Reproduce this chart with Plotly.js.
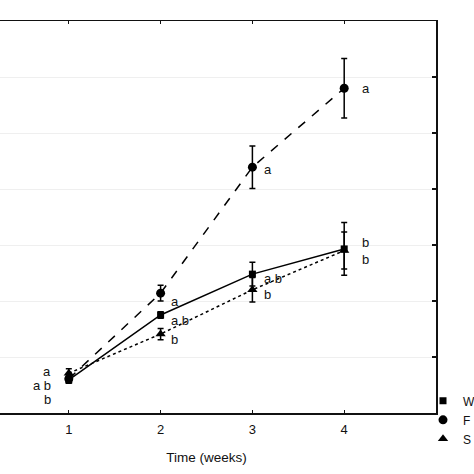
<!DOCTYPE html>
<html>
<head>
<meta charset="utf-8">
<script src="https://cdn.plot.ly/plotly-3.0.1.min.js"></script>
<style>
html,body{margin:0;padding:0;overflow:hidden;background:#fff;width:474px;height:474px;}
#chart{position:absolute;left:-23px;top:0;width:497px;height:474px;}
</style>
</head>
<body>
<div id="chart"></div>
<script>
// ---- data ----
const weeks = [1, 2, 3, 4];
const seriesNames = ['W', 'F', 'S'];
const valuesW = [0.59, 1.75, 2.48, 2.93];
const errorsW = [0.06, 0.06, 0.21, 0.47];
const valuesF = [0.61, 2.14, 4.39, 5.80];
const errorsF = [0.05, 0.14, 0.38, 0.53];
const valuesS = [0.71, 1.41, 2.20, 2.90];
const errorsS = [0.08, 0.10, 0.22, 0.33];
const lettersW = ['a b', 'a b', 'a b', 'b'];
const lettersF = ['a', 'a', 'a', 'a'];
const lettersS = ['b', 'b', 'b', 'b'];
const xTickLabels = ['1', '2', '3', '4'];

const FONT = 'Liberation Sans, Arial, Helvetica, sans-serif';
const symbols = ['square', 'circle', 'triangle-up'];
const dashes = ['solid', 'dash', 'dot'];
const sizes = [7, 9, 9];

function trace(i, y, err) {
  return {
    type: 'scatter', mode: 'lines+markers', name: seriesNames[i], showlegend: false,
    x: weeks, y: y,
    line: {color: '#000', width: 1.5, dash: dashes[i]},
    marker: {color: '#000', symbol: symbols[i], size: sizes[i]},
    error_y: {type: 'data', array: err, visible: true, color: '#000', thickness: 1.5, width: 3}
  };
}
function legendEntry(i) {
  return {
    type: 'scatter', mode: 'markers', name: seriesNames[i], x: [null], y: [null],
    marker: {color: '#000', symbol: symbols[i], size: sizes[i]}
  };
}

const data = [
  trace(0, valuesW, errorsW),
  trace(1, valuesF, errorsF),
  trace(2, valuesS, errorsS),
  legendEntry(0), legendEntry(1), legendEntry(2)
];

// letter annotations (layout offsets in px, separate from data)
const annotations = [];
const sets = [
  {vals: valuesW, letters: lettersW, key: 'W'},
  {vals: valuesF, letters: lettersF, key: 'F'},
  {vals: valuesS, letters: lettersS, key: 'S'}
];
const xShiftByWeek = [0, 8, 10, 16];
const yShift = {
  W: [-6, -5, -4, 6],
  F: [8, -8, -2, 0],
  S: [-20, -5, -5, -9]
};
sets.forEach(s => {
  s.letters.forEach((t, i) => {
    const a = {
      x: weeks[i], y: s.vals[i], xref: 'x', yref: 'y', text: t, showarrow: false,
      font: {family: FONT, size: 13, color: '#111'}, yanchor: 'middle'
    };
    if (i === 0) {
      a.y = valuesW[0];
      a.xanchor = 'right';
      a.xshift = -16;
      a.yshift = yShift[s.key][0];
    } else {
      a.xanchor = 'left';
      a.xshift = xShiftByWeek[i];
      a.yshift = yShift[s.key][i];
    }
    annotations.push(a);
  });
});

const layout = {
  width: 497, height: 474,
  margin: {l: 0, r: 38, t: 21, b: 61, pad: 0, autoexpand: false},
  paper_bgcolor: '#fff', plot_bgcolor: '#fff',
  font: {family: FONT, size: 12, color: '#111'},
  showlegend: true,
  legend: {
    x: 0.9717, xanchor: 'left', y: 0.068, yanchor: 'top',
    font: {family: FONT, size: 12, color: '#111'},
    itemwidth: 30, bgcolor: 'rgba(0,0,0,0)', tracegroupgap: 0
  },
  xaxis: {
    range: [0, 5], tickvals: weeks, ticktext: xTickLabels,
    ticks: 'inside', ticklen: 3, tickwidth: 1.2, tickcolor: '#111',
    showline: true, mirror: 'ticks', linecolor: '#111', linewidth: 1.5,
    showgrid: false, zeroline: false, ticklabelstandoff: 4,
    tickfont: {family: FONT, size: 13, color: '#111'},
    title: {text: 'Time (weeks)', font: {family: FONT, size: 13.5, color: '#111'}, standoff: 16}
  },
  yaxis: {
    range: [0, 7], dtick: 1, showticklabels: false,
    ticks: 'inside', ticklen: 4, tickwidth: 1.2, tickcolor: '#111',
    showline: true, mirror: 'ticks', linecolor: '#111', linewidth: 1.5,
    showgrid: true, gridcolor: '#efefef', gridwidth: 1, zeroline: false
  },
  annotations: annotations
};

Plotly.newPlot('chart', data, layout, {staticPlot: true, displayModeBar: false});
</script>
</body>
</html>
